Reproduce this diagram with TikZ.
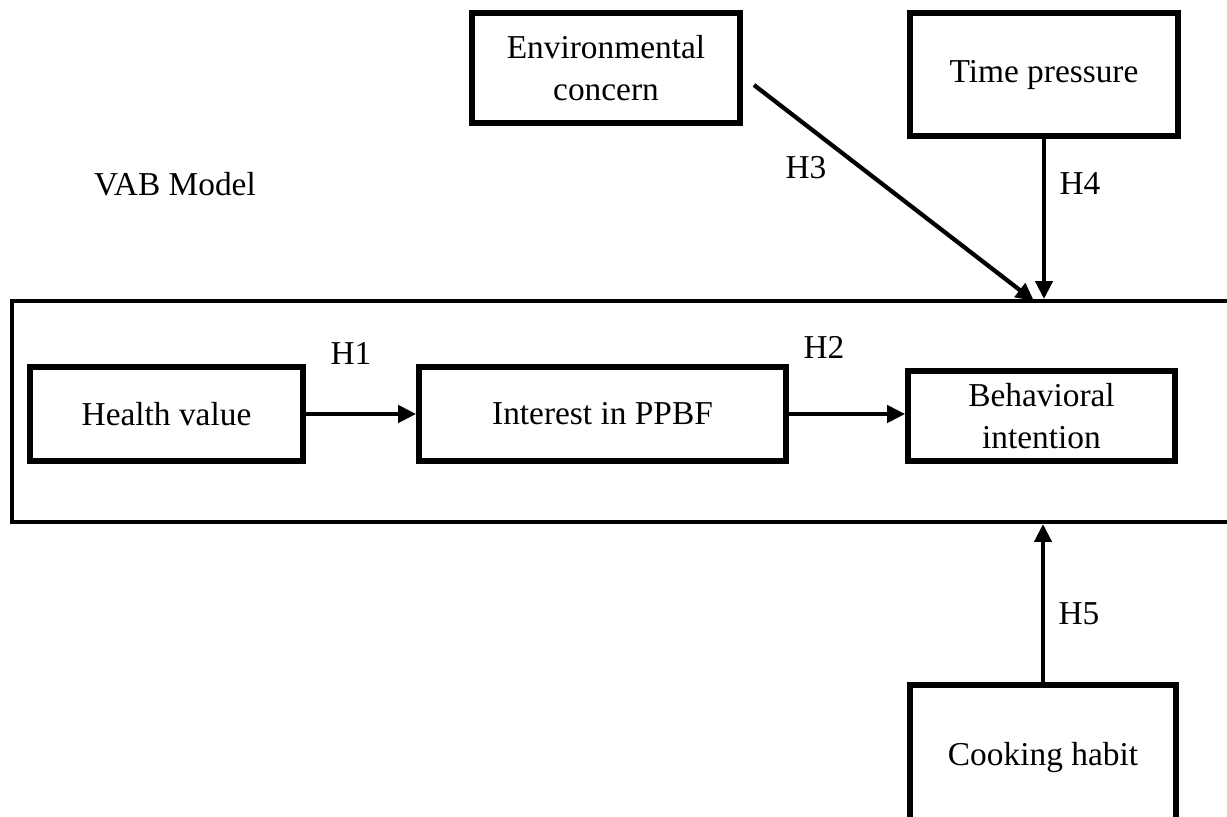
\documentclass[tikz,border=0pt]{standalone}
\usepackage{fontspec}
\setmainfont{Liberation Serif}
\usepackage{tikz}
\usetikzlibrary{arrows.meta,positioning,calc}

\begin{document}
\begin{tikzpicture}[x=0.02cm, y=-0.02cm,
    construct/.style={rectangle, draw=black, line width=0.115cm, fill=white,
        font=\fontsize{19}{24}\selectfont, align=center, inner sep=2pt},
    label/.style={font=\fontsize{19}{24}\selectfont, inner sep=0pt},
    arr/.style={-{Triangle[length=0.36cm, width=0.34cm]}, line width=0.085cm, black}
]
    \useasboundingbox (0,0) rectangle (1227,816);

    % VAB frame (runs off the right edge)
    \node[draw=black, line width=0.08cm, minimum width=25cm, minimum height=4.42cm,
        inner sep=0pt] (vab) at (637,411.5) {};
    \node[label] (vabtitle) at (175,184) {VAB Model};

    \node[construct, minimum width=5.36cm, minimum height=2.2cm] (env) at (606,68) {Environmental\\concern};
    \node[construct, minimum width=5.36cm, minimum height=2.46cm] (time) at (1044,74.5) {Time pressure};
    \node[construct, minimum width=5.46cm, minimum height=1.88cm] (health) at (166.5,414) {Health value};
    \node[construct, minimum width=7.34cm, minimum height=1.88cm] (interest) at (602.5,414) {Interest in PPBF};
    \node[construct, minimum width=5.34cm, minimum height=1.8cm] (behav) at (1041.5,416) {Behavioral\\intention};
    % bottom edge falls below the page
    \node[construct, minimum width=5.32cm, minimum height=2.9cm] (cook) at (1043,757.5) {Cooking habit};

    \coordinate (h3start) at (754,85);
    \coordinate (h3end) at (1034,301);

    \draw[arr] (health.east) -- (interest.west);
    \draw[arr] (interest.east) -- (interest.east -| behav.west);
    \draw[arr] (h3start) -- (h3end);
    \draw[arr] (time.south) -- (time.south |- vab.north);
    \draw[arr] (cook.north) -- (cook.north |- vab.south);

    \node[label] (h1) at (351,353) {H1};
    \node[label] (h2) at (824,347) {H2};
    \node[label] (h3) at (806,168) {H3};
    \node[label] (h4) at (1080,184) {H4};
    \node[label] (h5) at (1079,614) {H5};
\end{tikzpicture}
\end{document}
